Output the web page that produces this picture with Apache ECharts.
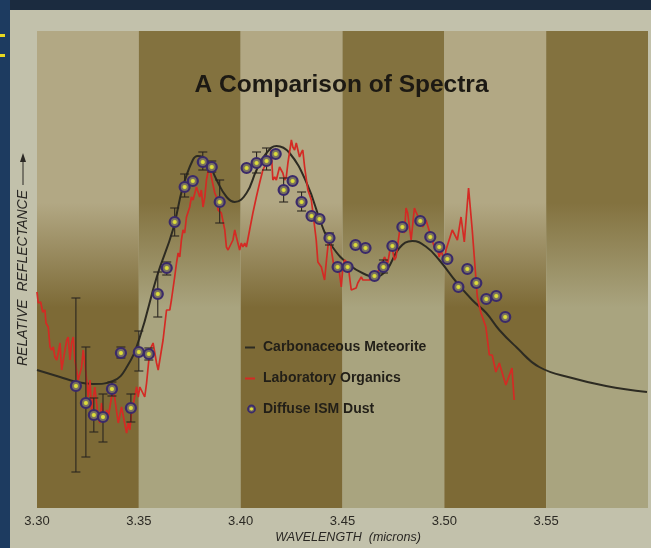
<!DOCTYPE html>
<html><head><meta charset="utf-8">
<script src="https://cdn.jsdelivr.net/npm/echarts@6/dist/echarts.min.js"></script>
<style>html,body{margin:0;padding:0;background:#1b2b3f;}#c{width:651px;height:548px;}</style>
</head><body><div id="c"></div>
<script>
// ---- data ----
const bandEdges = [3.30, 3.35, 3.40, 3.45, 3.50, 3.55, 3.60];
const xTickLabels = ['3.30', '3.35', '3.40', '3.45', '3.50', '3.55'];
const yMax = 119.25; // relative reflectance (arbitrary units)

const meteorite = [[3.3000,34.5],[3.3113,32.75],[3.3196,31.5],[3.3275,31],[3.3373,31.75],[3.3441,35.25],[3.3505,42.75],[3.3588,57.75],[3.3667,69.5],[3.3716,80.25],[3.3765,87],[3.3789,88],[3.3833,87],[3.3882,82],[3.3931,77.75],[3.3971,76.5],[3.4029,78.75],[3.4078,84.5],[3.4127,88.75],[3.4176,90.5],[3.4240,88.75],[3.4324,81.25],[3.4402,70.25],[3.4451,65.25],[3.4534,60.75],[3.4618,58.25],[3.4657,57.75],[3.4716,59.5],[3.4779,65],[3.4843,66.75],[3.4912,65.25],[3.4975,62],[3.5059,56.5],[3.5137,52],[3.5206,48.75],[3.5270,44.5],[3.5353,40.25],[3.5466,35.25],[3.5627,32.5],[3.5794,30.5],[3.5995,29]];

const organics = [[3.3000,54],[3.3006,51.25],[3.3018,51.5],[3.3028,49],[3.3039,49.5],[3.3044,46.25],[3.3055,45.25],[3.3064,40.25],[3.3072,39.5],[3.3080,40.25],[3.3088,37.75],[3.3097,37],[3.3104,38.75],[3.3113,41.25],[3.3121,34.5],[3.3129,37],[3.3146,42],[3.3153,42.75],[3.3162,37],[3.3170,41.25],[3.3178,42.75],[3.3186,37],[3.3202,32],[3.3219,35.25],[3.3227,39.5],[3.3244,32],[3.3251,27.75],[3.3260,32],[3.3268,24.5],[3.3284,30.25],[3.3300,22.75],[3.3309,21.25],[3.3317,26.25],[3.3333,22],[3.3342,24.5],[3.3350,22.75],[3.3374,30.25],[3.3399,21.25],[3.3415,25.25],[3.3440,18.75],[3.3448,21.25],[3.3456,19.5],[3.3464,23.75],[3.3489,30.25],[3.3497,27.75],[3.3505,30.25],[3.3529,27.75],[3.3538,31.25],[3.3554,39.5],[3.3570,41.25],[3.3587,36.25],[3.3595,34.5],[3.3619,42],[3.3636,49.5],[3.3652,49.5],[3.3660,52],[3.3676,57.75],[3.3685,61.25],[3.3693,63.75],[3.3701,62.75],[3.3709,67],[3.3717,69.5],[3.3725,68.75],[3.3734,72.75],[3.3750,75.25],[3.3758,77.75],[3.3766,77],[3.3783,80.25],[3.3799,77.75],[3.3807,79.5],[3.3815,75.25],[3.3824,77.75],[3.3832,82],[3.3848,86.25],[3.3856,82.75],[3.3873,78.75],[3.3881,77.75],[3.3889,74.5],[3.3905,73.75],[3.3922,69.5],[3.3930,65.25],[3.3938,64.5],[3.3962,67],[3.3971,69.5],[3.3979,67.75],[3.3995,64.5],[3.4003,66.25],[3.4011,65.25],[3.4020,66.25],[3.4028,65.25],[3.4044,69.5],[3.4060,73.75],[3.4077,77.75],[3.4093,81.25],[3.4109,84.5],[3.4133,87],[3.4142,86.25],[3.4150,89.5],[3.4158,82],[3.4167,82.75],[3.4175,82],[3.4191,85.25],[3.4207,83.75],[3.4216,82],[3.4224,82.75],[3.4232,86.25],[3.4249,92],[3.4256,90.25],[3.4265,89.5],[3.4273,91.25],[3.4289,87.75],[3.4297,88.75],[3.4305,89.5],[3.4314,85.25],[3.4330,79.5],[3.4347,77],[3.4355,73.75],[3.4371,67],[3.4379,61.5],[3.4396,60.25],[3.4412,57],[3.4420,61.25],[3.4428,65.25],[3.4436,68.75],[3.4445,64.5],[3.4461,59.5],[3.4469,61.25],[3.4485,58.75],[3.4494,55.25],[3.4502,60.25],[3.4510,62],[3.4526,61.25],[3.4543,54.5],[3.4567,55],[3.4575,56.25],[3.4592,57.75],[3.4600,57],[3.4632,57],[3.4649,57.5],[3.4665,58.75],[3.4681,59.5],[3.4706,62.75],[3.4722,61.25],[3.4739,66.25],[3.4755,62],[3.4763,62.75],[3.4779,68.75],[3.4788,71.25],[3.4804,68.75],[3.4812,75],[3.4820,73.75],[3.4837,67],[3.4853,75],[3.4861,74],[3.4894,70.25],[3.4910,72],[3.4935,67.75],[3.4951,65.25],[3.4959,66.25],[3.4975,62.75],[3.4984,64.5],[3.5000,61.5],[3.5008,64.5],[3.5039,69.5],[3.5064,67],[3.5082,72.75],[3.5098,66.5],[3.5119,80],[3.5137,69.5],[3.5162,52.75],[3.5180,48.75],[3.5204,45.25],[3.5221,38.25],[3.5235,38.25],[3.5253,34],[3.5270,36.25],[3.5302,30.75],[3.5332,35],[3.5343,27]];

const dust = [[3.3191,30.5],[3.3240,26.25],[3.3279,23.25],[3.3324,22.75],[3.3368,29.75],[3.3412,38.75],[3.3461,25],[3.3500,39],[3.3549,38.5],[3.3593,53.5],[3.3637,60],[3.3676,71.5],[3.3725,80.25],[3.3765,81.75],[3.3814,86.5],[3.3858,85.25],[3.3897,76.5],[3.4029,85],[3.4078,86.25],[3.4127,86.75],[3.4172,88.5],[3.4211,79.5],[3.4255,81.75],[3.4299,76.5],[3.4348,73],[3.4387,72.25],[3.4436,67.5],[3.4476,60.25],[3.4525,60.25],[3.4564,65.75],[3.4613,65],[3.4657,58],[3.4701,60.25],[3.4745,65.5],[3.4794,70.25],[3.4882,71.75],[3.4931,67.75],[3.4975,65.25],[3.5015,62.25],[3.5069,55.25],[3.5113,59.75],[3.5157,56.25],[3.5206,52.25],[3.5255,53],[3.5299,47.75]];

// [wavelength, low, high]
const dustErrors = [[3.3191,9,52.5],[3.3240,12.75,40.25],[3.3279,19,27.5],[3.3324,16.5,28.5],[3.3368,28,31.5],[3.3412,37.5,40.25],[3.3461,21.5,28.5],[3.3500,34.25,44.25],[3.3549,37,40],[3.3593,47.75,59],[3.3637,58.25,61.5],[3.3676,68,75],[3.3725,77.75,83.5],[3.3814,84.5,89],[3.3858,84,86.75],[3.3897,71.25,82],[3.4078,83.75,89],[3.4127,84.5,90],[3.4211,76.5,82.5],[3.4299,74.25,79],[3.4436,65.75,68.75],[3.4701,58.75,62]];

const seriesNames = ['Carbonaceous Meteorite', 'Laboratory Organics', 'Diffuse ISM Dust'];

// ---- chart ----
const LIGHT_TOP = '#b2a884', DARK_TOP = '#83723f', DARK_BOT = '#7d6a36', LIGHT_BOT = '#a9a47f';
const bands = [];
for (let i = 0; i < bandEdges.length - 1; i++) bands.push([bandEdges[i], bandEdges[i + 1], i % 2]);

const chart = echarts.init(document.getElementById('c'), null, {renderer: 'canvas'});
const FONT = '"Liberation Sans", Arial, Helvetica, sans-serif';
const INK = '#221f18';

function renderBand(params, api) {
  const x0 = api.value(0), x1 = api.value(1), kind = api.value(2);
  const p0 = api.coord([x0, yMax]), p1 = api.coord([x1, 0]);
  const c0 = kind === 0 ? LIGHT_TOP : DARK_TOP;
  const c1 = kind === 0 ? DARK_BOT : LIGHT_BOT;
  return {
    type: 'rect',
    shape: {x: p0[0], y: p0[1], width: p1[0] - p0[0], height: p1[1] - p0[1]},
    style: {fill: new echarts.graphic.LinearGradient(0, 0, 0, 1, [
      {offset: 0, color: c0}, {offset: 0.36, color: c0},
      {offset: 0.58, color: c1}, {offset: 1, color: c1}])}
  };
}
function renderErr(params, api) {
  const x = api.value(0), lo = api.value(1), hi = api.value(2);
  const a = api.coord([x, hi]), b = api.coord([x, lo]);
  const w = 4.5, st = {stroke: '#2a2620', lineWidth: 1.1};
  return {type: 'group', children: [
    {type: 'line', shape: {x1: a[0], y1: a[1], x2: b[0], y2: b[1]}, style: st},
    {type: 'line', shape: {x1: a[0] - w, y1: a[1], x2: a[0] + w, y2: a[1]}, style: st},
    {type: 'line', shape: {x1: b[0] - w, y1: b[1], x2: b[0] + w, y2: b[1]}, style: st}
  ]};
}
function dotFill() {
  return new echarts.graphic.RadialGradient(0.5, 0.5, 0.5, [
    {offset: 0, color: '#e4e43a'}, {offset: 0.26, color: '#d2d23c'},
    {offset: 0.42, color: '#7a7260'}, {offset: 1, color: '#6f6860'}]);
}

const option = {
  backgroundColor: '#c2c1ab',
  animation: false,
  grid: {left: 37, right: 2, top: 31, bottom: 40, containLabel: false},
  xAxis: {
    type: 'value', min: 3.30, max: 3.60, interval: 0.05,
    axisLine: {show: false}, axisTick: {show: false}, splitLine: {show: false},
    axisLabel: {
      color: '#2c2a24', fontSize: 13, fontFamily: FONT, margin: 7, showMaxLabel: true, showMinLabel: true,
      formatter: v => xTickLabels[Math.round((v - 3.30) / 0.05)] || ''
    }
  },
  yAxis: {type: 'value', min: 0, max: yMax, show: false},
  series: [
    {type: 'custom', name: 'bands', data: bands, renderItem: renderBand, z: 1, silent: true,
      encode: {x: [0, 1], y: 2}, clip: true},
    {type: 'line', name: seriesNames[0], data: meteorite, smooth: 0.45, symbol: 'none', z: 3,
      lineStyle: {color: '#2d2b22', width: 2}},
    {type: 'line', name: seriesNames[1], data: organics, smooth: false, symbol: 'none', z: 4,
      lineStyle: {color: '#d42a24', width: 1.7}},
    {type: 'custom', name: 'errors', data: dustErrors, renderItem: renderErr, z: 5, silent: true,
      encode: {x: 0, y: [1, 2]}},
    {type: 'scatter', name: seriesNames[2], data: dust, symbol: 'circle', symbolSize: 10, z: 6,
      itemStyle: {color: dotFill(), borderColor: '#3a2a6a', borderWidth: 2.2, opacity: 1}}
  ],
  graphic: [
    {type: 'rect', left: 0, top: 0, z: 50, shape: {width: 651, height: 10}, style: {fill: '#1b2b3f'}},
    {type: 'rect', left: 0, top: 0, z: 50, shape: {width: 10, height: 548}, style: {fill: '#1d3b60'}},
    {type: 'rect', left: 0, top: 34, z: 51, shape: {width: 5, height: 3}, style: {fill: '#e8d820'}},
    {type: 'rect', left: 0, top: 54, z: 51, shape: {width: 5, height: 3}, style: {fill: '#e8d820'}},
    {type: 'text', z: 60, x: 341.5, y: 85, style: {text: 'A Comparison of Spectra', fill: '#1c1913',
      font: 'bold 24.5px ' + FONT, textAlign: 'center', textVerticalAlign: 'middle'}},
    {type: 'text', z: 60, x: 23, y: 278, rotation: Math.PI / 2, style: {text: 'RELATIVE  REFLECTANCE',
      fill: '#2a2824', font: 'italic 14px ' + FONT, textAlign: 'center', textVerticalAlign: 'middle'}},
    {type: 'line', z: 60, shape: {x1: 23, y1: 185, x2: 23, y2: 160}, style: {stroke: '#2a2824', lineWidth: 1}},
    {type: 'polygon', z: 60, shape: {points: [[20, 162], [26, 162], [23, 153]]}, style: {fill: '#2a2824'}},
    {type: 'text', z: 60, x: 348, y: 538, style: {text: 'WAVELENGTH  (microns)', fill: '#2a2824',
      font: 'italic 12.5px ' + FONT, textAlign: 'center', textVerticalAlign: 'middle'}},
    // legend
    {type: 'line', z: 60, shape: {x1: 245, y1: 347.5, x2: 255, y2: 347.5}, style: {stroke: '#2d2b22', lineWidth: 2}},
    {type: 'line', z: 60, shape: {x1: 245, y1: 378.5, x2: 255, y2: 378.5}, style: {stroke: '#d42a24', lineWidth: 2}},
    {type: 'circle', z: 60, shape: {cx: 251.5, cy: 409, r: 3.5}, style: {fill: dotFill(), stroke: '#3a2a6a', lineWidth: 1.8}},
    {type: 'text', z: 60, x: 263, y: 347.5, style: {text: seriesNames[0], fill: INK, font: 'bold 14px ' + FONT, textVerticalAlign: 'middle'}},
    {type: 'text', z: 60, x: 263, y: 378.5, style: {text: seriesNames[1], fill: INK, font: 'bold 14px ' + FONT, textVerticalAlign: 'middle'}},
    {type: 'text', z: 60, x: 263, y: 409, style: {text: seriesNames[2], fill: INK, font: 'bold 14px ' + FONT, textVerticalAlign: 'middle'}}
  ]
};
chart.setOption(option);
</script>
</body></html>
